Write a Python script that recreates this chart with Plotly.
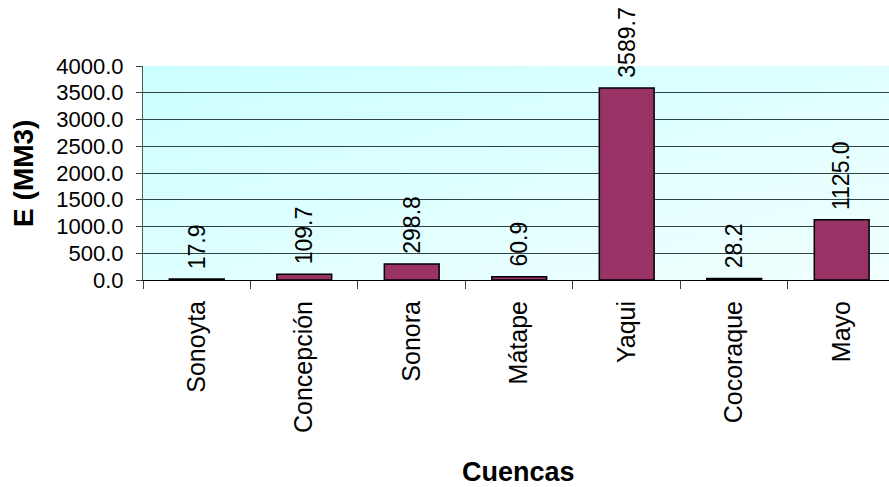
import base64
import struct
import zlib

import plotly.graph_objects as go

# Basin names and their volumes (MM3)
cuencas = ["Sonoyta", "Concepción", "Sonora", "Mátape", "Yaqui", "Cocoraque", "Mayo"]
valores = [17.9, 109.7, 298.8, 60.9, 3589.7, 28.2, 1125.0]

y_ticks = [0, 500, 1000, 1500, 2000, 2500, 3000, 3500, 4000]
y_grid = [500, 1000, 1500, 2000, 2500, 3000, 3500]

FONT = "Arial, Liberation Sans, sans-serif"


def gradient_png(w=64, h=64, c0=(204, 255, 255), c1=(242, 255, 255)):
    """Small diagonal gradient image used as the plot background."""
    rows = []
    for j in range(h):
        row = bytearray([0])
        for i in range(w):
            t = (i / (w - 1) + j / (h - 1)) / 2
            row += bytes(int(round(a + (b - a) * t)) for a, b in zip(c0, c1))
        rows.append(bytes(row))
    raw = b"".join(rows)

    def chunk(tag, data):
        c = struct.pack(">I", len(data)) + tag + data
        return c + struct.pack(">I", zlib.crc32(tag + data) & 0xFFFFFFFF)

    png = b"\x89PNG\r\n\x1a\n"
    png += chunk(b"IHDR", struct.pack(">IIBBBBB", w, h, 8, 2, 0, 0, 0))
    png += chunk(b"IDAT", zlib.compress(raw, 9))
    png += chunk(b"IEND", b"")
    return "data:image/png;base64," + base64.b64encode(png).decode()


fig = go.Figure(
    go.Bar(
        x=cuencas,
        y=valores,
        width=0.51,
        marker=dict(color="#993366", line=dict(color="#000000", width=1.5)),
        hoverinfo="x+y",
    )
)

# value labels, rotated above each bar
for c, v in zip(cuencas, valores):
    fig.add_annotation(
        x=c, y=v, xref="x", yref="y",
        text=f"{v:.1f}", showarrow=False, textangle=-90,
        yanchor="bottom", xanchor="center", yshift=8,
        font=dict(family=FONT, size=23, color="#000000"),
    )

# axis titles
fig.add_annotation(
    x=0.5027, y=-0.897, xref="paper", yref="paper",
    text="<b>Cuencas</b>", showarrow=False,
    xanchor="center", yanchor="middle",
    font=dict(family=FONT, size=27, color="#000000"),
)
fig.add_annotation(
    x=-0.161, y=0.5, xref="paper", yref="paper",
    text="<b>E (MM3)</b>", showarrow=False, textangle=-90,
    xanchor="center", yanchor="middle",
    font=dict(family=FONT, size=28, color="#000000"),
)

fig.add_layout_image(
    source=gradient_png(), xref="paper", yref="paper",
    x=0, y=1, sizex=1, sizey=1, xanchor="left", yanchor="top",
    sizing="stretch", layer="below",
)

fig.update_layout(
    width=889,
    height=487,
    margin=dict(l=143, r=0, t=66, b=207),
    paper_bgcolor="#FFFFFF",
    plot_bgcolor="rgba(0,0,0,0)",
    showlegend=False,
    font=dict(family=FONT, color="#000000"),
)

fig.update_xaxes(
    range=[-0.5, 6.44],
    showline=True, linecolor="#000000", linewidth=1,
    ticks="outside", tickson="boundaries", ticklen=8,
    tickcolor="#404040", tickwidth=1,
    tickangle=-90, ticklabelstandoff=10,
    tickfont=dict(family=FONT, size=25, color="#000000"),
    showgrid=False, fixedrange=True,
)

fig.update_yaxes(
    range=[0, 4000],
    tickvals=y_ticks, ticktext=[f"{t:.1f}" for t in y_ticks],
    showline=True, linecolor="#406060", linewidth=1,
    ticks="outside", ticklen=6, tickcolor="#404040", tickwidth=1,
    ticklabelstandoff=8,
    tickfont=dict(family=FONT, size=22, color="#000000"),
    showgrid=False,
    minor=dict(tickvals=y_grid, showgrid=True, gridcolor="#2F4444",
               gridwidth=1, ticks=""),
    zeroline=False, fixedrange=True,
)

fig.write_html("out.html")
